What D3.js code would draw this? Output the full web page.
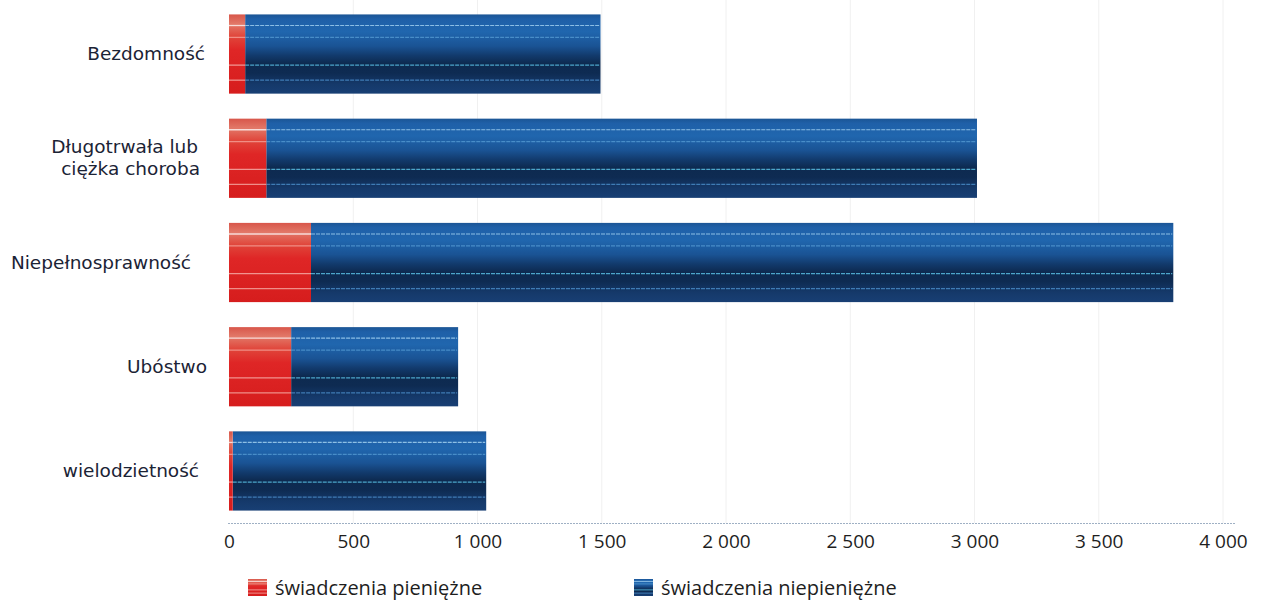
<!DOCTYPE html>
<html><head><meta charset="utf-8">
<script src="https://cdn.jsdelivr.net/npm/d3@7"></script>
<style>
html,body{margin:0;padding:0;background:#fff;}
svg{display:block;}
</style></head>
<body>
<svg id="chart" width="1262" height="603"></svg>
<script>
const categories = ["Bezdomność", "Długotrwała lub|ciężka choroba", "Niepełnosprawność", "Ubóstwo", "wielodzietność"];
const pieniezne = [65, 150, 330, 250, 15];
const niepieniezne = [1430, 2860, 3470, 672, 1020];
const tickValues = [0, 500, 1000, 1500, 2000, 2500, 3000, 3500, 4000];
const tickLabels = ["0", "500", "1 000", "1 500", "2 000", "2 500", "3 000", "3 500", "4 000"];
const seriesNames = ["świadczenia pieniężne", "świadczenia niepieniężne"];
// label right edges (layout)
const labelRight = [205, 198, 191, 207, 199];

const svg = d3.select("#chart");
const x = d3.scaleLinear().domain([0, 4000]).range([229, 1223]);
const y = d3.scaleBand().domain(categories).range([4, 521]).paddingInner(0.24).paddingOuter(0.1);

const defs = svg.append("defs");
const blue = defs.append("linearGradient").attr("id","gBlue").attr("x1",0).attr("y1",0).attr("x2",0).attr("y2",1);
[[0,"#1b5595"],[0.06,"#1f60a8"],[0.22,"#2066ae"],[0.4,"#1a5394"],[0.52,"#123a6c"],[0.62,"#0d2a50"],[0.74,"#0e2b52"],[0.88,"#15396a"],[1,"#183f74"]]
  .forEach(s=>blue.append("stop").attr("offset",s[0]).attr("stop-color",s[1]));
const red = defs.append("linearGradient").attr("id","gRed").attr("x1",0).attr("y1",0).attr("x2",0).attr("y2",1);
[[0,"#d8564a"],[0.12,"#e27868"],[0.28,"#e0453a"],[0.45,"#df2626"],[1,"#d61d1d"]]
  .forEach(s=>red.append("stop").attr("offset",s[0]).attr("stop-color",s[1]));

// gridlines
svg.append("g").selectAll("line").data(tickValues.slice(1)).enter().append("line")
  .attr("x1",d=>x(d)).attr("x2",d=>x(d)).attr("y1",0).attr("y2",523)
  .attr("stroke","#f0f0f0").attr("stroke-width",1);

const stripes = [[0.14,"#a8d6f4",0.8],[0.29,"#5fa6dc",0.65],[0.64,"#5cc6ea",0.8],[0.83,"#4f94d2",0.75]];
const stripesRed = [[0.14,"#ffffff",0.75],[0.29,"#ffd8d0",0.5],[0.64,"#ffe0d8",0.6],[0.83,"#ffd8d0",0.6]];

const g = svg.append("g");
categories.forEach((c,i)=>{
  const y0 = y(c), h = y.bandwidth();
  const xr0 = x(0), xr1 = x(pieniezne[i]), xb1 = x(pieniezne[i] + niepieniezne[i]);
  g.append("rect").attr("x",xr1).attr("y",y0).attr("width",xb1-xr1).attr("height",h)
    .attr("fill","url(#gBlue)");
  stripes.forEach(s=>g.append("line").attr("x1",xr1).attr("x2",xb1-1).attr("y1",y0+s[0]*h).attr("y2",y0+s[0]*h)
    .attr("stroke",s[1]).attr("stroke-opacity",s[2]).attr("stroke-width",1.2).attr("stroke-dasharray","4,1"));
  g.append("rect").attr("x",xr0).attr("y",y0).attr("width",xr1-xr0).attr("height",h)
    .attr("fill","url(#gRed)");
  stripesRed.forEach(s=>g.append("line").attr("x1",xr0).attr("x2",xr1).attr("y1",y0+s[0]*h).attr("y2",y0+s[0]*h)
    .attr("stroke",s[1]).attr("stroke-opacity",s[2]).attr("stroke-width",1.3));
});

// axis line
svg.append("line").attr("x1",228).attr("x2",1236).attr("y1",523.5).attr("y2",523.5)
  .attr("stroke","#9fb0c4").attr("stroke-width",1).attr("stroke-dasharray","2,1");

// x axis with labels
const xAxis = d3.axisBottom(x).tickValues(tickValues).tickFormat((d,i)=>tickLabels[i]).tickSize(0).tickPadding(0);
const ax = svg.append("g").attr("transform","translate(0,532)").call(xAxis);
ax.select(".domain").remove();
ax.selectAll("text").attr("font-family","'Open Sans', sans-serif").attr("font-size",19).attr("fill","#1e1e1e")
  .attr("dy","0.71em").attr("y",2);

// y labels
const lab = svg.append("g");
categories.forEach((c,i)=>{
  const lines = c.split("|");
  const cy = y(c) + y.bandwidth()/2;
  const t = lab.append("text").attr("text-anchor","end")
    .attr("font-family","'DejaVu Sans', sans-serif").attr("font-size",18.5).attr("fill","#1b2335");
  lines.forEach((l,j)=>{
    t.append("tspan").attr("x", labelRight[i] + (lines.length>1 ? j*2 : 0))
      .attr("y", cy + 6 + (j - (lines.length-1)/2)*22).text(l);
  });
});

// legend
const leg = svg.append("g");
const legX = [248, 634];
seriesNames.forEach((n,i)=>{
  const gx = legX[i];
  leg.append("rect").attr("x",gx).attr("y",579).attr("width",19).attr("height",17)
    .attr("fill", i===0?"url(#gRed)":"url(#gBlue)");
  const st = i===0 ? stripesRed : stripes;
  st.forEach(s=>leg.append("line").attr("x1",gx).attr("x2",gx+19).attr("y1",579+s[0]*17).attr("y2",579+s[0]*17)
    .attr("stroke",s[1]).attr("stroke-opacity",s[2]).attr("stroke-width",1));
  leg.append("text").attr("x",gx+27).attr("y",595).attr("font-family","'Open Sans', sans-serif")
    .attr("font-size",20).attr("fill","#1e1e1e").text(n);
});
</script>
</body></html>
